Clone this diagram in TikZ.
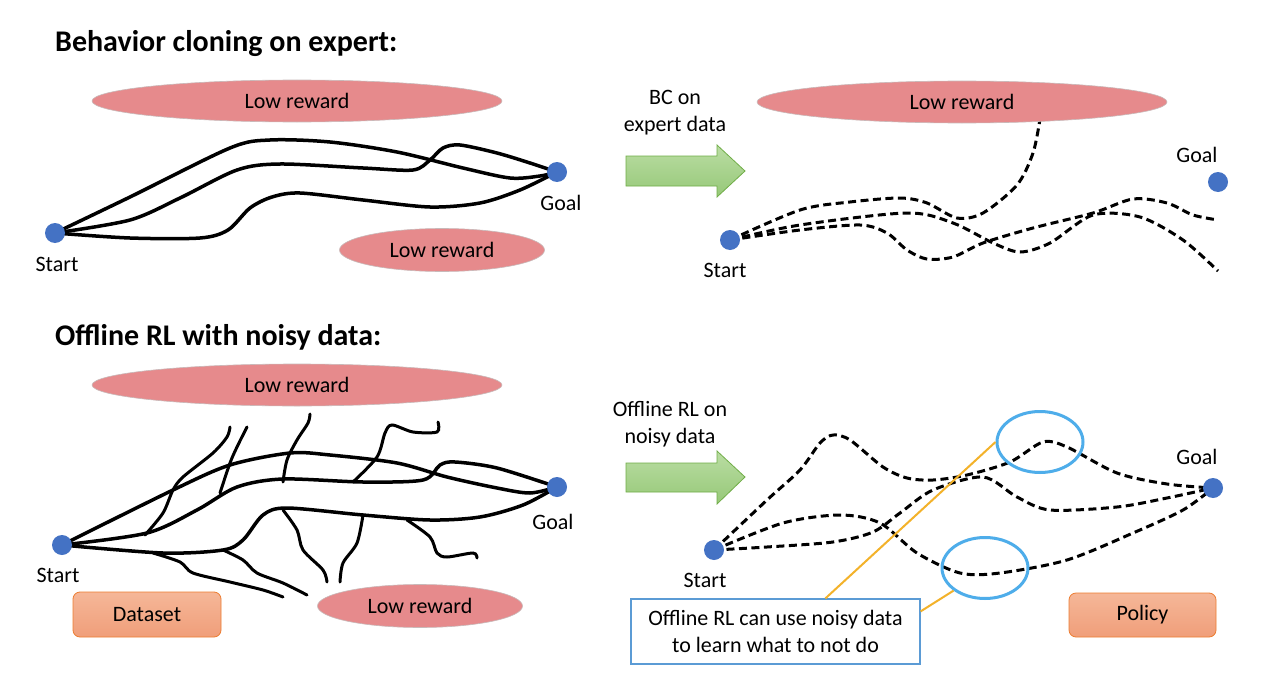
\documentclass[tikz,border=0pt]{standalone}
\usepackage{fontspec}
\setmainfont{Carlito}
\usetikzlibrary{shapes.geometric,calc}
\pgfdeclarelayer{bg}
\pgfsetlayers{bg,main}
\definecolor{lowred}{RGB}{230,138,140}
\definecolor{lowedge}{RGB}{200,185,185}
\definecolor{dotblue}{RGB}{68,114,196}
\definecolor{arrowtop}{RGB}{186,221,163}
\definecolor{arrowbot}{RGB}{150,200,120}
\definecolor{arrowedge}{RGB}{112,173,71}
\definecolor{boxtop}{RGB}{245,183,152}
\definecolor{boxbot}{RGB}{240,158,122}
\definecolor{boxedge}{RGB}{237,125,49}
\definecolor{calloutblue}{RGB}{91,155,213}
\definecolor{yellowline}{RGB}{243,178,42}
\definecolor{ringblue}{RGB}{78,173,234}
\begin{document}
\begin{tikzpicture}[x=1pt,y=-1pt,
  lbl/.style={font=\fontsize{22}{27}\selectfont, inner sep=0pt, align=center},
  title/.style={font=\bfseries\fontsize{30}{36}\selectfont, anchor=base west, inner sep=0pt},
  lowr/.style={ellipse, fill=lowred, draw=lowedge, line width=0.6pt, inner sep=0pt, font=\fontsize{22}{27}\selectfont},
  bigell/.style={lowr, minimum width=410pt, minimum height=42pt},
  smallell/.style={lowr, minimum width=205pt, minimum height=43pt},
  dot/.style={circle, fill=dotblue, inner sep=0pt, minimum size=20pt},
  traj/.style={line width=3.5pt, line cap=round},
  branch/.style={line width=3pt, line cap=round},
  dtraj/.style={line width=3pt, dash pattern=on 8pt off 4.5pt},
  garrow/.style={top color=arrowtop, bottom color=arrowbot, draw=arrowedge, line width=0.8pt},
  obox/.style={rounded corners=7pt, top color=boxtop, bottom color=boxbot, draw=boxedge, line width=0.8pt, font=\fontsize{22}{27}\selectfont, inner sep=0pt},
  ring/.style={ellipse, draw=ringblue, line width=3pt, inner sep=0pt, minimum width=86pt, minimum height=61pt},
  callout/.style={draw=yellowline, line width=2pt},
]
\useasboundingbox (0,0) rectangle (1280,685);
\begin{pgfonlayer}{bg}
\fill[white] (0,0) rectangle (1280,685);
\end{pgfonlayer}

% ---------- titles ----------
\node[title] (t1) at (55,52) {Behavior cloning on expert:};
\node[title] (t2) at (55,345) {Offline RL with noisy data:};

% ---------- top-left ----------
\node[bigell] (lr1) at (297,101) {Low reward};
\node[smallell] (lr2) at (442,250) {Low reward};
\node[dot] (s1) at (55,233) {};
\node[dot] (g1) at (557,172) {};
\node[lbl] (s1l) at (57,264) {Start};
\node[lbl] (g1l) at (561,203) {Goal};

% ---------- top-right ----------
\node[bigell] (lr3) at (962,102) {Low reward};
\node[dot] (s2) at (730,240) {};
\node[dot] (g2) at (1218,182) {};
\node[lbl] (s2l) at (725,270) {Start};
\node[lbl] (g2l) at (1197,155) {Goal};
\node[lbl] (bc) at (675,113) {BC on\\expert data};
\draw[garrow] (626,156) -- (717,156) -- (717,145) -- (745,171) -- (717,197) -- (717,186) -- (626,186) -- cycle;

% ---------- bottom-left ----------
\node[bigell] (lr4) at (297,385) {Low reward};
\node[smallell] (lr5) at (420,606) {Low reward};
\node[dot] (s3) at (62,545) {};
\node[dot] (g3) at (557,487) {};
\node[lbl] (s3l) at (58,575) {Start};
\node[lbl] (g3l) at (553,522) {Goal};
\node[obox, minimum width=148pt, minimum height=45pt] (data) at (147,614.5) {Dataset};

% ---------- bottom-right ----------
\node[dot] (s4) at (714,550) {};
\node[dot] (g4) at (1213,488) {};
\node[lbl] (s4l) at (705,580) {Start};
\node[lbl] (g4l) at (1197,457) {Goal};
\node[lbl] (orl) at (670,424) {Offline RL on\\noisy data};
\draw[garrow] (626,463) -- (717,463) -- (717,451) -- (745,477) -- (717,504) -- (717,492) -- (626,492) -- cycle;
\node[obox, minimum width=147pt, minimum height=44pt] (policy) at (1142.5,615) {Policy};
\node[ring] (c1) at (1040,442) {};
\node[ring] (c2) at (985,568) {};
\node[lbl, draw=calloutblue, line width=1.2pt, fill=white, minimum width=289pt, minimum height=65pt] (note) at (775.5,631.5) {Offline RL can use noisy data\\to learn what to not do};
\draw[callout] ($(note.north west)+(195,0)$) -- (c1.west);
\draw[callout] ($(note.north east)+(0,13)$) -- (c2.south west);

\begin{pgfonlayer}{bg}
% top-left expert trajectories
\draw[traj] plot[smooth] coordinates {(s1.center) (130,197) (230,148) (270,140) (330,142) (397,152) (463,168) (510,178) (540,176) (g1.center)};
\draw[traj] plot[smooth] coordinates {(s1.center) (130,220) (180,198) (237,170) (280,164) (363,168) (413,170) (430,160) (443,148) (460,145) (497,153) (530,163) (g1.center)};
\draw[traj] plot[smooth] coordinates {(s1.center) (130,238) (200,238) (228,230) (250,208) (272,197) (300,193) (363,200) (430,207) (480,203) (520,190) (g1.center)};

% top-right BC policy
\draw[dtraj] plot[smooth] coordinates {(s2.center) (800,210) (850,202) (900,198) (927,203) (957,218) (983,213) (1017,185) (1033,153) (1040,119)};
\draw[dtraj] plot[smooth] coordinates {(s2.center) (800,225) (907,213) (953,223) (993,243) (1020,252) (1050,243) (1093,215) (1140,217) (1183,240) (1218,271)};
\draw[dtraj] plot[smooth] coordinates {(s2.center) (800,230) (860,225) (887,233) (907,250) (927,259) (953,257) (983,243) (1033,228) (1093,213) (1133,199) (1167,203) (1193,215) (1218,220)};

% bottom-left noisy data
\draw[traj] plot[smooth] coordinates {(s3.center) (173,490) (230,465) (290,453) (330,455) (397,463) (447,477) (497,488) (530,493) (g3.center)};
\draw[traj] plot[smooth] coordinates {(s3.center) (147,533) (197,510) (237,487) (283,479) (363,482) (423,480) (440,465) (455,462) (497,468) (g3.center)};
\draw[traj] plot[smooth] coordinates {(s3.center) (163,553) (223,550) (243,540) (263,515) (287,508) (363,515) (430,520) (480,517) (523,505) (g3.center)};
\draw[branch] plot[smooth] coordinates {(145,535) (163,513) (173,490) (183,477) (213,453) (227,437) (230,427)};
\draw[branch] plot[smooth] coordinates {(220,493) (230,463) (237,447) (247,427)};
\draw[branch] plot[smooth] coordinates {(283,482) (287,460) (297,440) (308,423) (310,414)};
\draw[branch] plot[smooth] coordinates {(353,482) (377,457) (385,433) (392,425) (413,432) (437,432) (438,422)};
\draw[branch] plot[smooth] coordinates {(283,510) (297,530) (303,550) (323,570) (327,582)};
\draw[branch] plot[smooth] coordinates {(363,515) (357,543) (343,563) (340,582)};
\draw[branch] plot[smooth] coordinates {(407,520) (430,537) (437,553) (447,557) (473,553) (477,558)};
\draw[branch] plot[smooth] coordinates {(223,550) (243,560) (257,573) (283,583) (307,595)};
\draw[branch] plot[smooth] coordinates {(153,553) (180,562) (193,573) (230,582) (263,590) (283,597)};

% bottom-right offline RL policy
\draw[dtraj] plot[smooth] coordinates {(s4.center) (767,500) (800,470) (820,443) (833,435) (850,440) (883,467) (907,478) (933,480) (967,475) (1010,462) (1043,442) (1067,447) (1117,473) (1167,484) (g4.center)};
\draw[dtraj] plot[smooth] coordinates {(s4.center) (767,547) (833,542) (873,532) (900,513) (933,490) (983,477) (1017,497) (1050,510) (1117,507) (1167,498) (g4.center)};
\draw[dtraj] plot[smooth] coordinates {(s4.center) (783,523) (840,515) (880,523) (917,553) (960,573) (1000,573) (1067,560) (1133,533) (1183,510) (g4.center)};
\end{pgfonlayer}
\end{tikzpicture}
\end{document}
